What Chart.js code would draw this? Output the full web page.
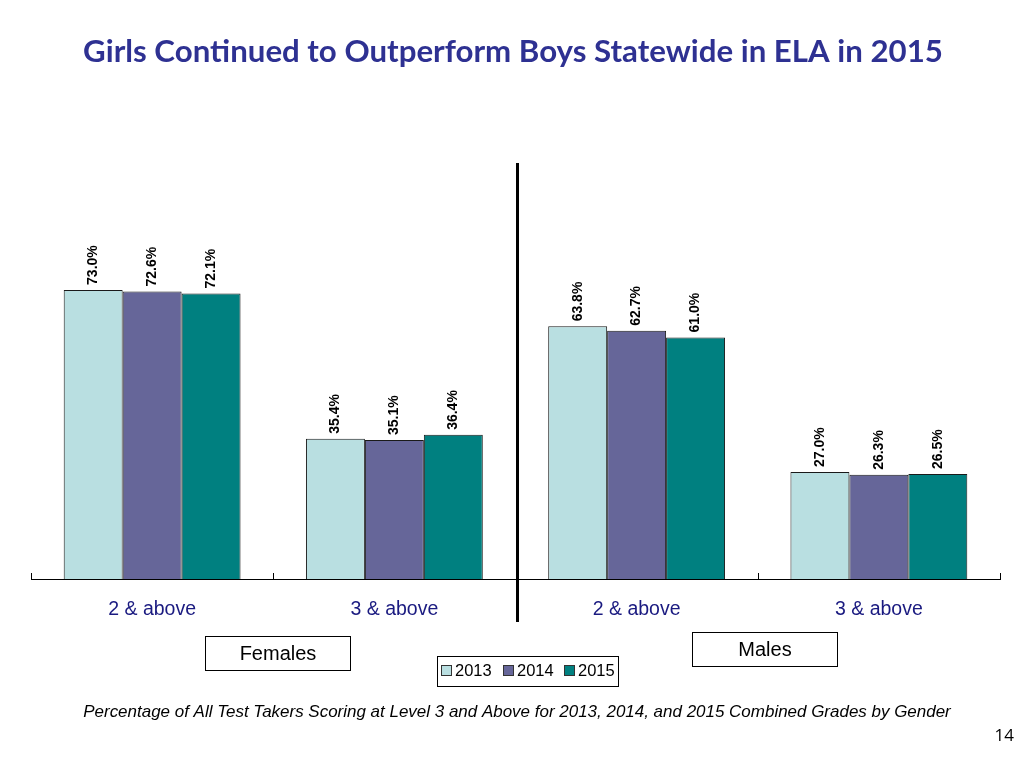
<!DOCTYPE html>
<html>
<head>
<meta charset="utf-8">
<script src="https://cdn.jsdelivr.net/npm/chart.js@4"></script>
<style>
  html, body { margin: 0; padding: 0; background: #fff; }
  #wrap { width: 1024px; height: 768px; position: relative; }
</style>
</head>
<body>
<div id="wrap"><canvas id="elaChart" width="1024" height="768"></canvas></div>
<script>
// Categories and series values (percent)
const categories = ['2 & above', '3 & above', '2 & above', '3 & above'];
const groupNames = ['Females', 'Males'];
const years = ['2013', '2014', '2015'];
const values2013 = [73.0, 35.4, 63.8, 27.0];
const values2014 = [72.6, 35.1, 62.7, 26.3];
const values2015 = [72.1, 36.4, 61.0, 26.5];

const titleText = 'Girls Continued to Outperform Boys Statewide in ELA in 2015';
const footnoteText = 'Percentage of All Test Takers Scoring at Level 3 and Above for 2013, 2014, and 2015 Combined Grades by Gender';
const pageNumber = '14';

const colors = ['#b9dfe1', '#666699', '#008080'];

// font size that makes a text fill a given width
function fitFont(ctx, text, style, family, width) {
  ctx.font = style + ' 20px ' + family;
  const s = 20 * width / ctx.measureText(text).width;
  return style + ' ' + s + 'px ' + family;
}

// draws title, value labels, divider, group boxes, legend and footnote
const decorPlugin = {
  id: 'decor',
  afterDraw(chart) {
    const ctx = chart.ctx;
    const x = chart.scales.x;
    const area = chart.chartArea;
    ctx.save();

    // title
    ctx.font = fitFont(ctx, titleText, 'bold', 'Lato', 860);
    ctx.fillStyle = '#2e3192';
    ctx.textAlign = 'center';
    ctx.textBaseline = 'middle';
    ctx.fillText(titleText, 513, 52);

    // small tick marks at category boundaries
    const step = x.getPixelForValue(1) - x.getPixelForValue(0);
    ctx.strokeStyle = '#000';
    ctx.lineWidth = 1;
    for (let i = 0; i <= categories.length; i++) {
      const px = Math.round(x.getPixelForValue(0) - step / 2 + i * step) + 0.5;
      ctx.beginPath();
      ctx.moveTo(px, area.bottom);
      ctx.lineTo(px, area.bottom - 6);
      ctx.stroke();
    }

    // value labels, rotated
    ctx.fillStyle = '#000';
    ctx.font = 'bold 14px "Liberation Sans", Arial';
    ctx.textAlign = 'left';
    ctx.textBaseline = 'middle';
    chart.data.datasets.forEach((ds, di) => {
      chart.getDatasetMeta(di).data.forEach((bar, i) => {
        ctx.save();
        ctx.translate(bar.x, bar.y - 5);
        ctx.rotate(-Math.PI / 2);
        ctx.fillText(ds.data[i].toFixed(1) + '%', 0, 0);
        ctx.restore();
      });
    });

    // divider between females and males
    ctx.fillStyle = '#000';
    ctx.fillRect(516, 163, 3, 459);

    // group boxes
    ctx.font = '20px "Liberation Sans", Arial';
    ctx.textAlign = 'center';
    ctx.strokeStyle = '#000';
    ctx.lineWidth = 1;
    const boxes = [[205, 636], [692, 632]];
    groupNames.forEach((g, i) => {
      const [bx, by] = boxes[i];
      ctx.fillStyle = '#fff';
      ctx.fillRect(bx, by, 145, 34);
      ctx.strokeRect(bx + 0.5, by + 0.5, 145, 34);
      ctx.fillStyle = '#000';
      ctx.fillText(g, bx + 73, by + 18);
    });

    // legend
    ctx.strokeRect(437.5, 656.5, 181, 30);
    ctx.font = '16.5px "Liberation Sans", Arial';
    ctx.textAlign = 'left';
    const lx = [441, 503, 564];
    years.forEach((y, i) => {
      ctx.fillStyle = colors[i];
      ctx.fillRect(lx[i], 665, 10, 10);
      ctx.strokeStyle = '#333';
      ctx.strokeRect(lx[i] + 0.5, 665.5, 10, 10);
      ctx.fillStyle = '#000';
      ctx.fillText(y, lx[i] + 14, 671);
    });

    // footnote and page number
    ctx.font = fitFont(ctx, footnoteText, 'italic', '"Liberation Sans", Arial', 868);
    ctx.textAlign = 'center';
    ctx.fillText(footnoteText, 517, 712);
    ctx.font = '17px "Open Sans"';
    ctx.textAlign = 'right';
    ctx.fillText(pageNumber, 1014, 736);

    ctx.restore();
  }
};

const ctx = document.getElementById('elaChart').getContext('2d');
new Chart(ctx, {
  type: 'bar',
  data: {
    labels: categories,
    datasets: years.map((y, i) => ({
      label: y,
      data: [values2013, values2014, values2015][i],
      backgroundColor: colors[i],
      borderColor: '#1a1a1a',
      borderWidth: 1,
      categoryPercentage: 0.73,
      barPercentage: 1.0
    }))
  },
  options: {
    responsive: false,
    animation: false,
    layout: { padding: { left: 31, right: 24, top: 183, bottom: 129 } },
    plugins: {
      legend: { display: false },
      tooltip: { enabled: false }
    },
    scales: {
      x: {
        grid: { display: false, drawTicks: false },
        border: { display: true, color: '#000', width: 1 },
        ticks: {
          color: '#1a1a80',
          font: { family: '"Liberation Sans", Arial', size: 19.5 },
          padding: 19
        },
        afterFit(scale) { scale.height = 60; }
      },
      y: {
        display: false,
        min: 0,
        max: 100
      }
    }
  },
  plugins: [decorPlugin]
});
</script>
</body>
</html>
